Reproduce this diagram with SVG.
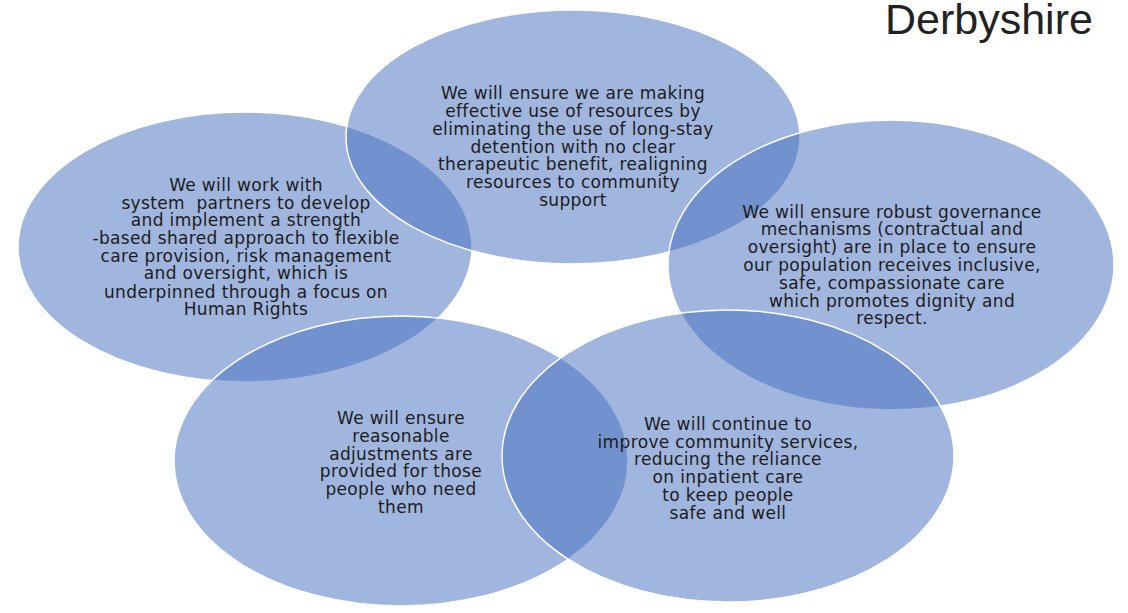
<svg xmlns="http://www.w3.org/2000/svg" width="1128" height="613" viewBox="0 0 1128 613">
<style>
.c{fill:#416dbd;fill-opacity:0.5;stroke:#ffffff;stroke-width:1.5}
.t{font-family:"DejaVu Sans",sans-serif;font-size:17px;letter-spacing:0.35px;fill:#1c1c1c;text-anchor:middle}
.logo{font-family:"Liberation Sans",Arial,sans-serif;font-size:43px;fill:#222222}
</style>
<rect width="1128" height="613" fill="#ffffff"/>
<text class="logo" x="885" y="34">Derbyshire</text>
<g id="node-left">
<ellipse class="c" cx="245" cy="247" rx="227" ry="135"/>
<text class="t"><tspan x="246" y="191">We will work with</tspan><tspan x="246" y="209" xml:space="preserve">system  partners to develop</tspan><tspan x="246" y="226">and implement a strength</tspan><tspan x="246" y="244">-based shared approach to flexible</tspan><tspan x="246" y="261.5">care provision, risk management</tspan><tspan x="246" y="279">and oversight, which is</tspan><tspan x="246" y="297.5">underpinned through a focus on</tspan><tspan x="246" y="315">Human Rights</tspan></text>
</g>
<g id="node-top">
<ellipse class="c" cx="573" cy="137" rx="227" ry="127"/>
<text class="t"><tspan x="573" y="99">We will ensure we are making</tspan><tspan x="573" y="117">effective use of resources by</tspan><tspan x="573" y="135">eliminating the use of long-stay</tspan><tspan x="573" y="152.5">detention with no clear</tspan><tspan x="573" y="170">therapeutic benefit, realigning</tspan><tspan x="573" y="188">resources to community</tspan><tspan x="573" y="206">support</tspan></text>
</g>
<g id="node-right">
<ellipse class="c" cx="891" cy="265" rx="223" ry="145"/>
<text class="t"><tspan x="892" y="217.5">We will ensure robust governance</tspan><tspan x="892" y="235">mechanisms (contractual and</tspan><tspan x="892" y="253">oversight) are in place to ensure</tspan><tspan x="892" y="270.5">our population receives inclusive,</tspan><tspan x="892" y="288.5">safe, compassionate care</tspan><tspan x="892" y="306.5">which promotes dignity and</tspan><tspan x="892" y="324">respect.</tspan></text>
</g>
<g id="node-bottom-left">
<ellipse class="c" cx="401" cy="461" rx="227" ry="145"/>
<text class="t"><tspan x="401" y="424">We will ensure</tspan><tspan x="401" y="442">reasonable</tspan><tspan x="401" y="460">adjustments are</tspan><tspan x="401" y="477">provided for those</tspan><tspan x="401" y="495">people who need</tspan><tspan x="401" y="512.5">them</tspan></text>
</g>
<g id="node-bottom-right">
<ellipse class="c" cx="728" cy="456" rx="226" ry="146"/>
<text class="t"><tspan x="728" y="429.5">We will continue to</tspan><tspan x="728" y="447.5">improve community services,</tspan><tspan x="728" y="465">reducing the reliance</tspan><tspan x="728" y="482.5">on inpatient care</tspan><tspan x="728" y="501">to keep people</tspan><tspan x="728" y="518.5">safe and well</tspan></text>
</g>
<g id="connectors"></g>
</svg>
